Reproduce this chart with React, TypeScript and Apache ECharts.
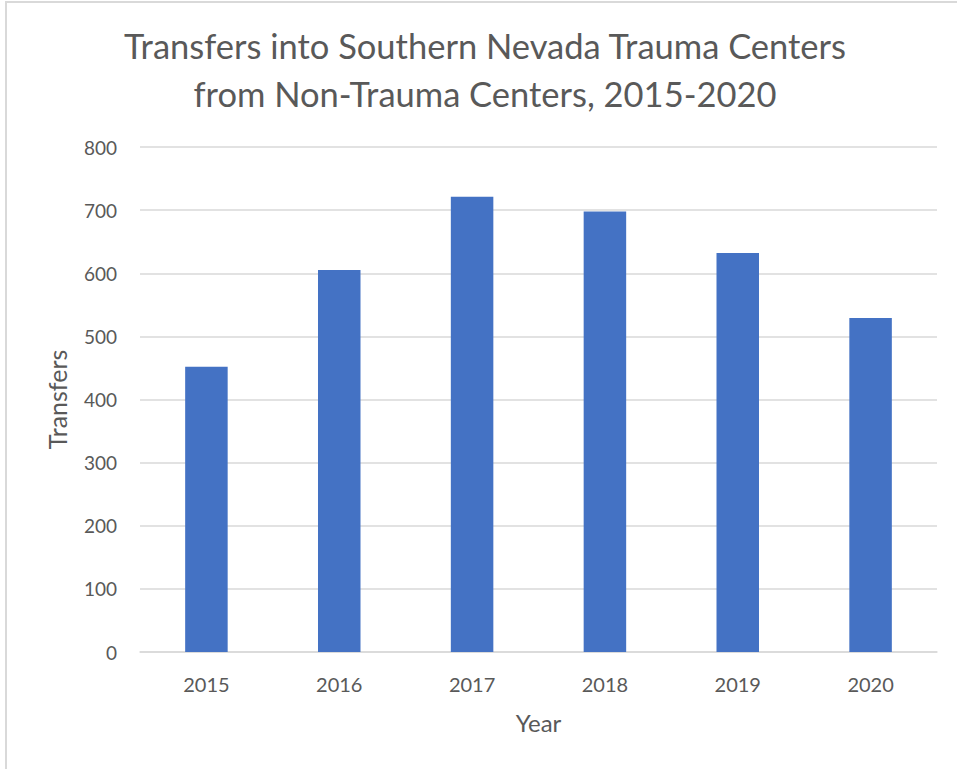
import React, { useEffect, useRef } from "react";
import * as echarts from "echarts";

const categories = ["2015", "2016", "2017", "2018", "2019", "2020"];
const transfers = [452, 605, 721, 698, 632, 529];
const yTicks = [0, 100, 200, 300, 400, 500, 600, 700, 800];

const FONT = "Lato, 'Open Sans', sans-serif";
const TEXT = "#595959";

export default function App() {
  const ref = useRef<HTMLDivElement>(null);
  useEffect(() => {
    if (!ref.current) return;
    const chart = echarts.init(ref.current, null, { renderer: "svg" });
    chart.setOption({
      animation: false,
      backgroundColor: "#ffffff",
      title: {
        text: "Transfers into Southern Nevada Trauma Centers\nfrom Non-Trauma Centers, 2015-2020",
        left: 485,
        textAlign: "center",
        top: 21,
        padding: 0,
        textStyle: {
          fontFamily: FONT,
          fontSize: 34.5,
          fontWeight: "normal",
          color: TEXT,
          lineHeight: 48,
        },
      },
      graphic: [
        {
          type: "rect",
          shape: { x: 6, y: 2, width: 1000, height: 1000 },
          style: { fill: "none", stroke: "#d9d9d9", lineWidth: 2 },
          silent: true,
        },
      ],
      grid: { left: 140, right: 20, top: 147, bottom: 117 },
      xAxis: {
        type: "category",
        data: categories,
        name: "Year",
        nameLocation: "middle",
        nameGap: 58,
        nameTextStyle: { fontFamily: FONT, fontSize: 24, color: TEXT },
        axisLine: { lineStyle: { color: "#d9d9d9", width: 1.5 } },
        axisTick: { show: false },
        axisLabel: { fontFamily: FONT, fontSize: 20, color: TEXT, margin: 22 },
      },
      yAxis: {
        type: "value",
        min: yTicks[0],
        max: yTicks[yTicks.length - 1],
        interval: 100,
        name: "Transfers",
        nameLocation: "middle",
        nameGap: 71,
        nameTextStyle: { fontFamily: FONT, fontSize: 25, color: TEXT },
        axisLine: { show: false },
        axisTick: { show: false },
        axisLabel: { fontFamily: FONT, fontSize: 19, color: TEXT, margin: 23 },
        splitLine: { lineStyle: { color: "#d9d9d9", width: 1.5 } },
      },
      series: [
        {
          type: "bar",
          data: transfers,
          barWidth: "32%",
          itemStyle: { color: "#4472c4" },
        },
      ],
    });
    return () => chart.dispose();
  }, []);
  return (
    <div
      ref={ref}
      style={{ position: "absolute", left: 0, top: 0, width: 957, height: 769 }}
    />
  );
}
